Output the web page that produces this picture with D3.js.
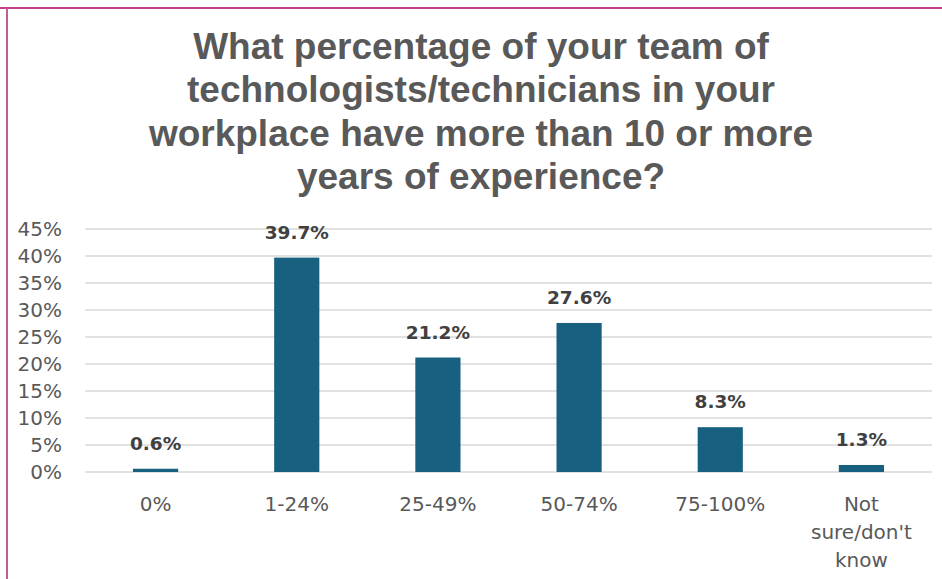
<!DOCTYPE html>
<html>
<head>
<meta charset="utf-8">
<script src="https://cdn.jsdelivr.net/npm/d3@7/dist/d3.min.js"></script>
<style>
  html, body { margin: 0; padding: 0; background: #fff; }
  svg { display: block; }
</style>
</head>
<body>
<script>
const categories = ["0%", "1-24%", "25-49%", "50-74%", "75-100%", "Not sure/don't know"];
const categoryLines = [["0%"], ["1-24%"], ["25-49%"], ["50-74%"], ["75-100%"], ["Not", "sure/don't", "know"]];
const values = [0.6, 39.7, 21.2, 27.6, 8.3, 1.3];
const yTicks = [0, 5, 10, 15, 20, 25, 30, 35, 40, 45];
const titleLines = [
  "What percentage of your team of",
  "technologists/technicians in your",
  "workplace have more than 10 or more",
  "years of experience?"
];

const W = 942, H = 579;
const plot = { left: 85, right: 932, top: 229, bottom: 472 };
const labelFont = "'DejaVu Sans', Verdana, sans-serif";

const svg = d3.select("body").append("svg").attr("width", W).attr("height", H);

// frame
svg.append("line").attr("x1", 0).attr("x2", W).attr("y1", 8).attr("y2", 8)
  .attr("stroke", "#c4408c").attr("stroke-width", 2);
svg.append("line").attr("x1", 7).attr("x2", 7).attr("y1", 8).attr("y2", H)
  .attr("stroke", "#c25c99").attr("stroke-width", 2);

// title
const title = svg.append("text")
  .attr("text-anchor", "middle")
  .attr("font-family", "'Liberation Sans', Arial, sans-serif")
  .attr("font-weight", "bold")
  .attr("font-size", 37)
  .attr("fill", "#595959");
titleLines.forEach((t, i) => {
  title.append("tspan").attr("x", 481).attr("y", 59 + i * 43.3).text(t);
});

const x = d3.scaleBand().domain(categories).range([plot.left, plot.right]).paddingInner(0.68).paddingOuter(0.34);
const y = d3.scaleLinear().domain([0, 45]).range([plot.bottom, plot.top]);

// gridlines
svg.append("g")
  .selectAll("line").data(yTicks).join("line")
  .attr("x1", plot.left).attr("x2", plot.right)
  .attr("y1", d => y(d)).attr("y2", d => y(d))
  .attr("stroke", "#d9d9d9").attr("stroke-width", 1.5);

// y axis labels
const yAxis = d3.axisLeft(y).tickValues(yTicks).tickFormat(d => d + "%").tickSize(0).tickPadding(0);
const yg = svg.append("g").attr("transform", `translate(62,0)`).call(yAxis);
yg.select(".domain").remove();
yg.selectAll("text")
  .attr("font-family", labelFont)
  .attr("font-size", 20).attr("fill", "#595959");

// bars
svg.append("g").selectAll("rect").data(values).join("rect")
  .attr("x", (d, i) => x(categories[i]))
  .attr("width", x.bandwidth())
  .attr("y", d => y(d))
  .attr("height", d => y(0) - y(d))
  .attr("fill", "#17607f");

// value labels
svg.append("g").selectAll("text").data(values).join("text")
  .attr("x", (d, i) => x(categories[i]) + x.bandwidth() / 2)
  .attr("y", d => y(d) - 19)
  .attr("text-anchor", "middle")
  .attr("font-family", labelFont)
  .attr("font-weight", "bold")
  .attr("font-size", 18.5)
  .attr("fill", "#404040")
  .text(d => d.toFixed(1) + "%");

// category labels
const cg = svg.append("g");
categories.forEach((c, i) => {
  const t = cg.append("text")
    .attr("text-anchor", "middle")
    .attr("font-family", labelFont)
    .attr("font-size", 20)
    .attr("fill", "#595959");
  categoryLines[i].forEach((line, j) => {
    t.append("tspan").attr("x", x(c) + x.bandwidth() / 2).attr("y", 511 + j * 28).text(line);
  });
});
</script>
</body>
</html>
